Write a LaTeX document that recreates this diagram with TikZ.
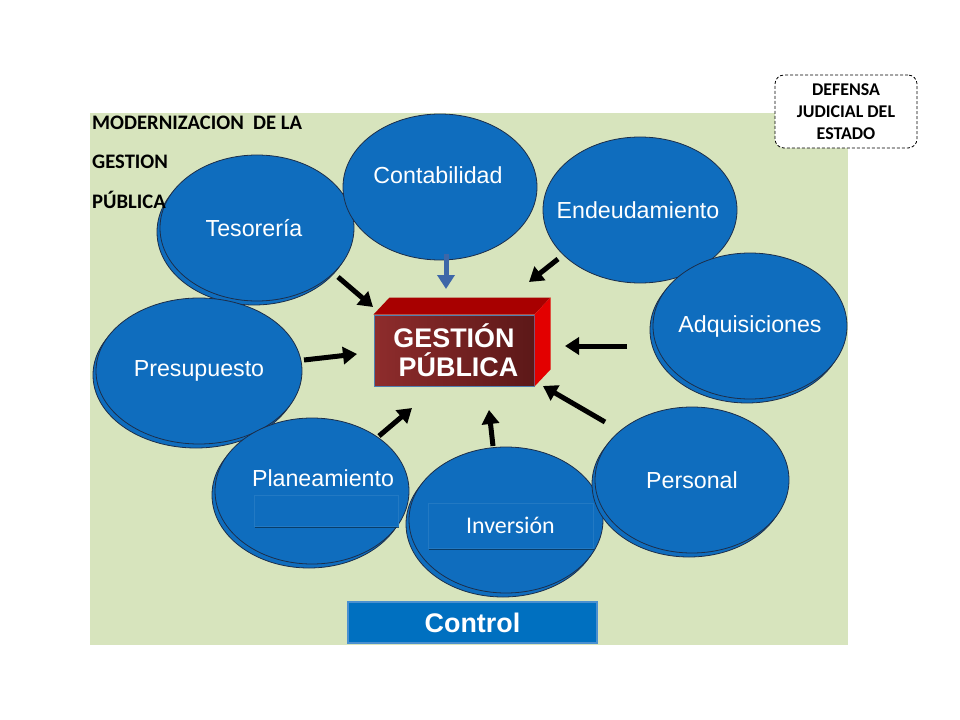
\documentclass[tikz,border=0pt]{standalone}
\usepackage{fontspec}
\setmainfont{Liberation Sans}
\newfontfamily\carlito{Carlito}
\usetikzlibrary{arrows.meta,shapes.geometric,shadows,calc}
\definecolor{panel}{HTML}{D7E4BD}
\definecolor{oval}{RGB}{15,109,190}
\definecolor{ovaline}{HTML}{1C2E4A}
\definecolor{ctrl}{HTML}{0070C0}
\definecolor{ctrlline}{HTML}{4A90D0}
\definecolor{gpfront}{HTML}{8E2C2C}
\definecolor{gpdark}{HTML}{5C1818}
\definecolor{gptop}{HTML}{A80000}
\definecolor{gpside}{HTML}{E30000}
\definecolor{gpline}{HTML}{4F7FB0}
\definecolor{contarrow}{HTML}{3E67A8}
\tikzset{
    area/.style={ellipse, draw=ovaline, line width=0.8bp, fill=oval, inner sep=0pt,
        minimum width=194bp, minimum height=146bp},
    area shadow/.style={area, copy shadow={shadow xshift=-3bp, shadow yshift=-4bp}},
    area text/.style={text=white, font=\fontsize{23.3}{27}\selectfont, inner sep=0pt},
    inbox/.style={rectangle, fill=oval, draw=oval!92!white, line width=0.5bp,
        drop shadow={shadow xshift=0.5bp, shadow yshift=-2bp, fill=oval!45!black, opacity=0.8},
        text=white, font=\carlito\fontsize{24}{28}\selectfont},
    gp box/.style={rectangle, draw=gpline, line width=1bp, left color=gpfront, right color=gpdark,
        text=white, align=center, font=\bfseries\fontsize{27}{29}\selectfont,
        minimum width=160bp, minimum height=71bp},
    ctrl box/.style={rectangle, fill=ctrl, draw=ctrlline, line width=1.5bp, text=white,
        font=\bfseries\fontsize{27}{30}\selectfont, minimum width=249bp, minimum height=41bp},
    note/.style={rectangle, rounded corners=9bp, draw=black, fill=white, line width=0.8bp,
        dash pattern=on 3bp off 2bp, align=center, inner sep=0pt,
        font=\carlito\bfseries\fontsize{18}{22}\selectfont,
        minimum width=142bp, minimum height=73bp},
    title/.style={anchor=base west, inner sep=0pt, font=\carlito\bfseries\fontsize{20.7}{24}\selectfont},
    arr/.style={-{Triangle[length=14bp,width=17bp]}, line width=5bp}
}
\begin{document}
\begin{tikzpicture}[x=1bp,y=-1bp]
    \useasboundingbox (0,0) rectangle (960,720);
    \fill[panel] (90,113) rectangle (848,645);

    % areas round the box
    \node[area shadow, label={[area text, xshift=-3bp]center:Tesorería}] (tes) at (257,228) {};
    \node[area, label={[area text, xshift=-2bp, yshift=12bp]center:Contabilidad}] (conta) at (440,187) {};
    \node[area, label={[area text, xshift=-2bp]center:Endeudamiento}] (endeu) at (640,210) {};
    \node[area shadow, label={[area text]center:Adquisiciones}] (adqui) at (750,326) {};
    \node[area shadow, minimum width=206bp, label={[area text]center:Presupuesto}] (presu) at (199,371) {};
    \node[area shadow, label={[area text, xshift=11bp, yshift=13bp]center:Planeamiento}] (plane) at (312,491) {};
    \node[inbox, minimum width=144bp, minimum height=31bp] (plane-box) at (326,510.5) {};
    \node[area shadow] (inver) at (506,520) {};
    \node[inbox, minimum width=165bp, minimum height=45bp] (inver-box) at (510.5,525.5) {Inversión};
    \node[area shadow, label={[area text]center:Personal}] (perso) at (692,480) {};

    % gestion publica
    \node[gp box] (gp) at (454,350.5) {GESTIÓN\\\hspace*{9bp}PÚBLICA};
    \fill[gptop] (gp.north west) -- ++(16,-17) -- ($(gp.north east)+(16,-17)$) -- (gp.north east) -- cycle;
    \fill[gpside] (gp.north east) -- ++(16,-17) -- ($(gp.south east)+(16,-17)$) -- (gp.south east) -- cycle;

    \node[ctrl box] (control) at (472.5,622.5) {Control};

    \node[title] (t1) at (92,130) {MODERNIZACION\ \ DE LA};
    \node[title] (t2) at (92,169) {GESTION};
    \node[title] (t3) at (92,208) {PÚBLICA};

    \node[note] (defensa) at (846,111.5) {DEFENSA\\JUDICIAL DEL\\ESTADO};

    % arrows
    \coordinate (tes-a) at (338,277);   \coordinate (tes-b) at (373,307);
    \coordinate (conta-a) at (446,254); \coordinate (conta-b) at (446,289);
    \coordinate (endeu-a) at (558,259); \coordinate (endeu-b) at (529,282);
    \coordinate (adqui-a) at (627,346); \coordinate (adqui-b) at (565,346);
    \coordinate (perso-a) at (605,422); \coordinate (perso-b) at (543,386);
    \coordinate (inver-a) at (493,446); \coordinate (inver-b) at (489,410);
    \coordinate (plane-a) at (379,436); \coordinate (plane-b) at (412,408);
    \coordinate (presu-a) at (304,360); \coordinate (presu-b) at (357,354);
    \foreach \s in {tes,endeu,adqui,perso,inver,plane,presu}
        \draw[arr] (\s-a) -- (\s-b);
    \draw[arr, contarrow] (conta-a) -- (conta-b);
\end{tikzpicture}
\end{document}
